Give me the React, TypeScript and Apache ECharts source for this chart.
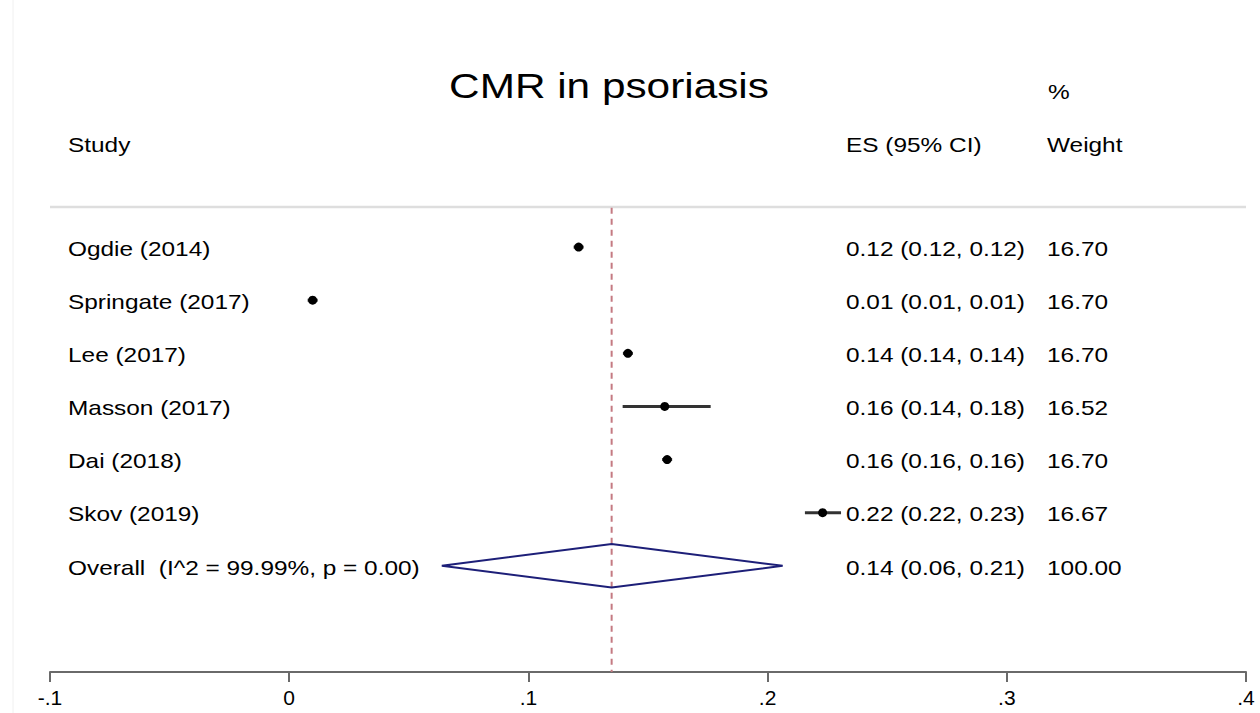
import React, { useEffect, useRef } from 'react';
import * as echarts from 'echarts';

const studies = ['Ogdie (2014)', 'Springate (2017)', 'Lee (2017)', 'Masson (2017)', 'Dai (2018)', 'Skov (2019)'];
const es = [0.121, 0.0098, 0.1416, 0.157, 0.158, 0.223];
const lower = [0.1203, 0.0092, 0.1409, 0.1394, 0.1574, 0.2156];
const upper = [0.1217, 0.0104, 0.1423, 0.1762, 0.1586, 0.2307];
const esText = [
  '0.12 (0.12, 0.12)',
  '0.01 (0.01, 0.01)',
  '0.14 (0.14, 0.14)',
  '0.16 (0.14, 0.18)',
  '0.16 (0.16, 0.16)',
  '0.22 (0.22, 0.23)',
];
const weights = ['16.70', '16.70', '16.70', '16.52', '16.70', '16.67'];

const overallLabel = ['Overall  (I^2 = 99.99%, p = 0.00)'];
const overallEs = [0.1348];
const overallLower = [0.0638];
const overallUpper = [0.2063];
const overallText = ['0.14 (0.06, 0.21)'];
const overallWeight = ['100.00'];

const tickLabels: Record<string, string> = {
  '-0.1': '-.1',
  '0': '0',
  '0.1': '.1',
  '0.2': '.2',
  '0.3': '.3',
  '0.4': '.4',
};

const FONT = '"Liberation Sans", Arial, Helvetica, sans-serif';
const SX = 1.22;

const textEl = (x: number, y: number, text: string) => ({
  type: 'text',
  x,
  y,
  scaleX: SX,
  style: {
    text,
    x: 0,
    y: 0,
    fill: '#000',
    fontSize: 20,
    fontFamily: FONT,
    align: 'left',
    verticalAlign: 'middle',
  },
});

export default function App() {
  const ref = useRef<HTMLDivElement>(null);

  useEffect(() => {
    const chart = echarts.init(ref.current!, null, { renderer: 'svg' });

    const studyData = studies.map((_, i) => [i + 1, es[i], lower[i], upper[i]]);
    const overallData = overallEs.map((v, i) => [studies.length + 1, v, overallLower[i], overallUpper[i]]);

    const option: any = {
      animation: false,
      backgroundColor: '#fff',
      grid: { left: 50, right: 14, top: 194, bottom: 41, containLabel: false },
      xAxis: {
        type: 'value',
        position: 'bottom',
        min: -0.1,
        max: 0.4,
        interval: 0.1,
        splitLine: { show: false },
        axisLine: { show: true, onZero: false, lineStyle: { color: '#6a6a6a', width: 2 } },
        axisTick: { show: true, length: 10, lineStyle: { color: '#6a6a6a', width: 2 } },
        axisLabel: {
          showMinLabel: true,
          showMaxLabel: true,
          color: '#000',
          fontSize: 21,
          fontFamily: FONT,
          margin: 15,
          formatter: (v: number) => tickLabels[String(Math.round(v * 10) / 10)] ?? String(v),
        },
      },
      yAxis: {
        type: 'value',
        min: 0,
        max: 9,
        inverse: true,
        show: false,
        splitLine: { show: false },
      },
      graphic: [
        { type: 'line', shape: { x1: 13, y1: 0, x2: 13, y2: 713 }, style: { stroke: '#f0f0f0', lineWidth: 1 } },
        {
          type: 'text',
          x: 609,
          y: 86,
          scaleX: 1.21,
          style: {
            text: 'CMR in psoriasis',
            x: 0,
            y: 0,
            fill: '#000',
            fontSize: 35,
            fontFamily: FONT,
            align: 'center',
            verticalAlign: 'middle',
          },
        },
        textEl(1048, 92, '%'),
        textEl(68, 145, 'Study'),
        textEl(846, 145, 'ES (95% CI)'),
        textEl(1047, 145, 'Weight'),
      ],
      series: [
        {
          type: 'line',
          data: [[-0.1, 0.245], [0.4, 0.245]],
          symbol: 'none',
          silent: true,
          lineStyle: { color: '#dedede', width: 2.5 },
          z: 1,
        },
        {
          type: 'line',
          data: [[overallEs[0], 0.26], [overallEs[0], 9]],
          symbol: 'none',
          silent: true,
          lineStyle: { color: '#c47a82', width: 2, type: [6, 5] },
          z: 2,
        },
        {
          type: 'custom',
          data: studyData,
          encode: { x: [1, 2, 3], y: 0 },
          z: 3,
          renderItem: (params: any, api: any) => {
            const i = params.dataIndex;
            const row = api.value(0);
            const p = api.coord([api.value(1), row]);
            const l = api.coord([api.value(2), row]);
            const h = api.coord([api.value(3), row]);
            const y = p[1];
            return {
              type: 'group',
              children: [
                {
                  type: 'line',
                  shape: { x1: Math.min(l[0], p[0] - 5), y1: y, x2: Math.max(h[0], p[0] + 5), y2: y },
                  style: { stroke: '#333', lineWidth: 3 },
                },
                { type: 'circle', shape: { cx: p[0], cy: y, r: 4.5 }, style: { fill: '#000' } },
                textEl(68, y + 2, studies[i]),
                textEl(846, y + 2, esText[i]),
                textEl(1047, y + 2, weights[i]),
              ],
            };
          },
        },
        {
          type: 'custom',
          data: overallData,
          encode: { x: [1, 2, 3], y: 0 },
          z: 3,
          renderItem: (params: any, api: any) => {
            const i = params.dataIndex;
            const row = api.value(0);
            const p = api.coord([api.value(1), row]);
            const l = api.coord([api.value(2), row]);
            const h = api.coord([api.value(3), row]);
            const top = api.coord([api.value(1), row - 0.41]);
            const bot = api.coord([api.value(1), row + 0.41]);
            const y = p[1];
            return {
              type: 'group',
              children: [
                {
                  type: 'polygon',
                  shape: { points: [[l[0], y], [p[0], top[1]], [h[0], y], [p[0], bot[1]]] },
                  style: { fill: 'none', stroke: '#1d1f78', lineWidth: 2 },
                },
                textEl(68, y + 2, overallLabel[i]),
                textEl(846, y + 2, overallText[i]),
                textEl(1047, y + 2, overallWeight[i]),
              ],
            };
          },
        },
      ],
    };

    chart.setOption(option);
    return () => chart.dispose();
  }, []);

  return (
    <div
      ref={ref}
      style={{ position: 'fixed', left: 0, top: 0, width: 1260, height: 713, background: '#fff' }}
    />
  );
}
